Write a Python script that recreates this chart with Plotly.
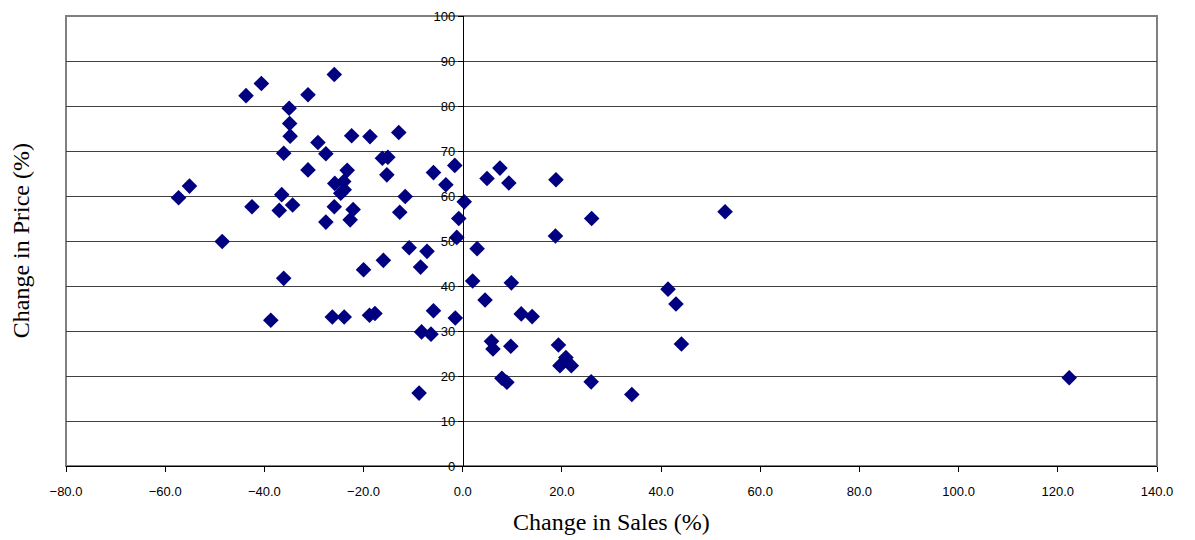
import plotly.graph_objects as go

# change in sales (%) and change in price (%)
sales_change = [
    -25.9, -40.6, -43.7, -31.2, -35.0, -34.9, -34.8, -22.4, -29.2, -27.6,
    -36.1, -31.2, -23.3, -25.8, -24.0, -24.6, -23.9, -55.1, -57.3, -42.5,
    -36.5, -37.0, -34.3, -25.9, -22.1, -27.6, -22.7, -48.5, -18.7, -12.9,
    -16.2, -15.1, -15.3, -5.9, -1.6, -3.4, -11.6, -12.7, 0.3, -0.8,
    -1.2, 4.9, 7.5, 9.3, 18.8, 26.0, 18.7, 52.9, -36.1, -38.7,
    -26.3, -23.9, -20.0, -16.0, -10.8, -7.2, -8.5, 2.9, 2.0, 9.8,
    4.5, -5.9, -1.5, -18.8, -17.7, -8.3, -6.4, 11.8, 14.0, 5.8,
    6.1, 9.7, 7.9, 8.9, -8.8, 41.4, 43.0, 44.1, 19.3, 19.6,
    21.9, 20.8, 25.9, 34.1, 122.3,
]
price_change = [
    87.0, 85.0, 82.3, 82.5, 79.5, 76.1, 73.3, 73.4, 71.9, 69.4,
    69.5, 65.8, 65.7, 62.8, 63.2, 60.6, 61.4, 62.2, 59.6, 57.6,
    60.3, 56.8, 58.0, 57.6, 57.0, 54.2, 54.7, 49.9, 73.2, 74.1,
    68.4, 68.6, 64.7, 65.2, 66.8, 62.5, 59.9, 56.4, 58.7, 55.0,
    50.8, 63.9, 66.2, 62.9, 63.6, 55.0, 51.1, 56.5, 41.7, 32.4,
    33.1, 33.1, 43.6, 45.7, 48.5, 47.7, 44.2, 48.3, 41.1, 40.7,
    36.9, 34.5, 32.9, 33.5, 33.9, 29.8, 29.3, 33.8, 33.2, 27.7,
    26.0, 26.6, 19.5, 18.6, 16.2, 39.3, 36.0, 27.1, 26.9, 22.3,
    22.3, 24.1, 18.7, 15.9, 19.6,
]

X_RANGE = [-80, 140]
Y_RANGE = [0, 100]

fig = go.Figure(
    go.Scatter(
        x=sales_change,
        y=price_change,
        mode="markers",
        marker=dict(symbol="diamond", size=12, color="#000080", line=dict(width=0)),
        showlegend=False,
    )
)

tick_font = dict(family="Liberation Sans, Arial", size=13, color="black")
title_font = dict(family="Liberation Serif, Times New Roman", size=24, color="black")

# the page body adds an 8px offset, so margins are trimmed to match
fig.update_layout(
    width=1195,
    height=540,
    paper_bgcolor="white",
    plot_bgcolor="white",
    margin=dict(l=58, r=46, t=8, b=82),
    xaxis=dict(
        range=X_RANGE,
        dtick=20,
        tickformat=".1f",
        showgrid=False,
        zeroline=False,
        showline=True,
        linecolor="black",
        linewidth=1,
        ticks="outside",
        ticklen=5,
        tickcolor="black",
        tickfont=tick_font,
        ticklabelstandoff=8,
        automargin=False,
    ),
    yaxis=dict(
        range=Y_RANGE,
        dtick=10,
        anchor="free",
        position=(0 - X_RANGE[0]) / (X_RANGE[1] - X_RANGE[0]),
        showgrid=True,
        gridcolor="#404040",
        gridwidth=1,
        zeroline=False,
        showline=True,
        linecolor="black",
        linewidth=1,
        ticks="outside",
        ticklen=5,
        tickcolor="black",
        tickfont=tick_font,
        automargin=False,
    ),
    shapes=[
        dict(type="rect", xref="paper", yref="paper", x0=0, x1=1, y0=0, y1=1,
             line=dict(color="#808080", width=2), layer="below"),
    ],
    annotations=[
        dict(text="Change in Sales (%)", xref="paper", yref="paper", x=0.5, y=-0.125,
             showarrow=False, font=title_font, yanchor="middle"),
        dict(text="Change in Price (%)", xref="paper", yref="paper", x=-0.041, y=0.5,
             showarrow=False, font=title_font, textangle=-90, xanchor="center"),
    ],
)

fig.write_html("out.html")
